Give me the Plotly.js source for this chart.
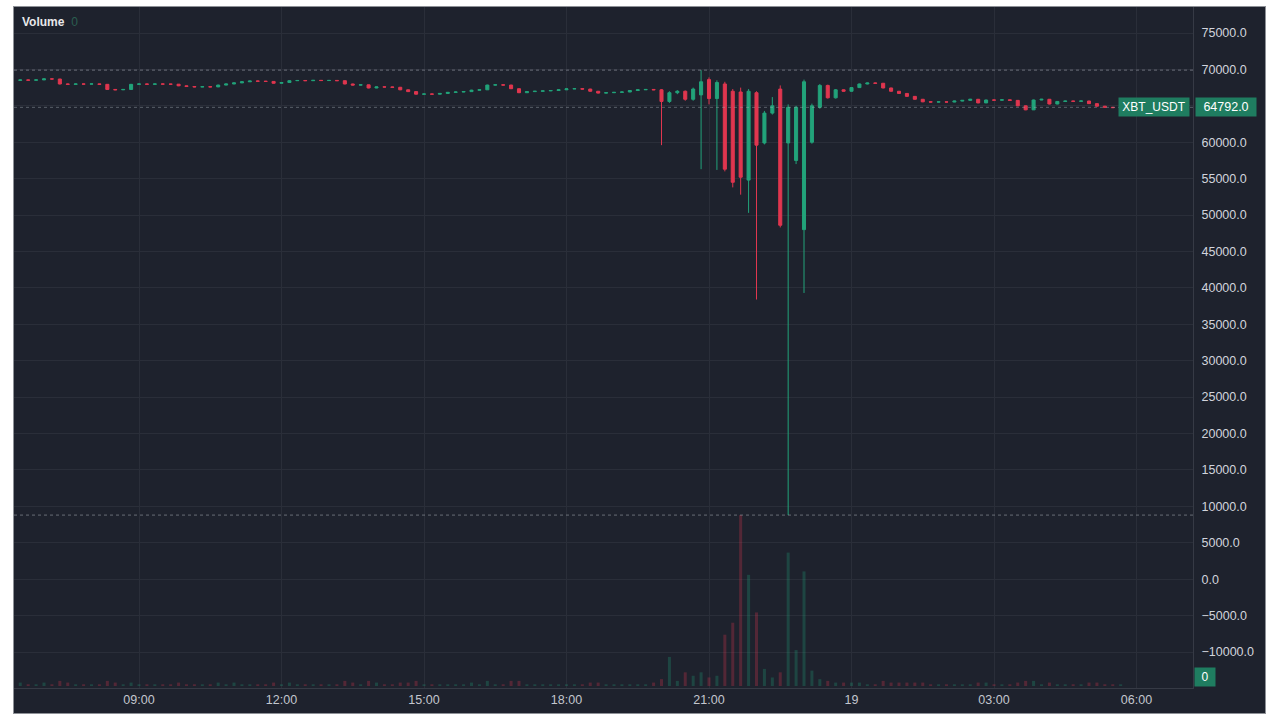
<!DOCTYPE html>
<html>
<head>
<meta charset="utf-8">
<script src="https://cdn.plot.ly/plotly-3.0.1.min.js"></script>
<style>
  html, body { margin:0; padding:0; background:#ffffff; width:1280px; height:720px; overflow:hidden; }
  #frame { position:absolute; left:13px; top:6px; width:1251px; height:706px; border:1px solid #8e9197; background:#1e222d; }
  #chart { width:1251px; height:706px; }
</style>
</head>
<body>
<div id="frame"><div id="chart"></div></div>
<script>
// ---- data (10-minute candles, XBT_USDT) ----
const startTime = '2024-04-18T06:30:00Z';
const stepMinutes = 10;

const openPrices = [
 68500,68550,68520,68560,68700,68680,68000,67950,68000,67980,
 68010,67950,67250,67200,67250,67950,68000,67960,68000,67980,
 67970,67750,67650,67600,67620,67600,67850,68000,68150,68300,
 68400,68380,68350,68100,68200,68450,68480,68450,68500,68470,
 68490,68450,68000,67850,67880,67450,67600,67580,67550,67200,
 66950,66600,66620,66600,66700,66850,66900,66950,67150,67200,
 67850,67880,67850,67350,66800,66950,67000,67050,67100,67200,
 67330,67350,67300,67000,66750,66800,66850,66900,67100,67200,
 67250,67200,65600,66800,67000,65900,66500,68600,66000,68000,
 67000,66900,54800,66800,59900,64000,67300,59900,57500,48000,
 60000,64800,67800,66100,67200,67000,67500,68000,68130,68100,
 67450,67000,66700,66300,65900,65550,65520,65540,65520,65650,
 65750,65900,65400,65800,65780,65820,65750,65000,64450,65800,
 65900,65250,65600,65650,65620,65660,65300,64950,64800,64750
];
const highPrices = [
 68600,68600,68610,68750,68760,68700,68050,68050,68040,68060,
 68040,67980,67300,67300,68000,68060,68040,68050,68040,68020,
 68000,67790,67700,67680,67660,67900,68050,68200,68350,68450,
 68450,68420,68390,68250,68500,68530,68520,68550,68540,68540,
 68530,68480,68040,67930,67910,67650,67640,67620,67590,67240,
 66990,66670,66660,66750,66900,66950,67000,67200,67250,67900,
 67930,67920,67890,67390,67000,67050,67100,67150,67250,67380,
 67400,67390,67340,67040,66850,66900,66950,67150,67250,67300,
 67290,67300,67000,67150,67100,67500,69900,68900,68500,68300,
 67300,67500,67300,67000,64300,66200,67800,65200,65000,68600,
 65300,68000,67900,67300,67250,67550,68050,68180,68170,68140,
 67490,67040,66740,66340,65940,65590,65590,65580,65700,65800,
 65950,65940,65850,65840,65870,65860,65790,65040,65850,65950,
 65940,65650,65700,65690,65710,65700,65340,64990,64840,64840
];
const lowPrices = [
 68450,68480,68490,68530,68640,67940,67900,67920,67940,67950,
 67900,67200,67150,67160,67220,67920,67920,67930,67940,67930,
 67700,67610,67550,67570,67560,67570,67820,67970,68120,68270,
 68340,68310,68050,68060,68170,68420,68410,68420,68430,68440,
 68410,67950,67800,67810,67400,67420,67540,67500,67150,66900,
 66550,66560,66550,66570,66670,66820,66870,66920,67120,67170,
 67820,67800,67300,66750,66770,66920,66970,67020,67070,67170,
 67300,67250,66950,66700,66720,66770,66820,66870,67070,67170,
 67150,59600,65400,66600,65700,65700,56300,65200,56200,56000,
 53800,52800,50300,38400,59700,63800,48300,8800,57000,39300,
 59800,64600,66000,66000,66950,66950,67450,67950,68050,67400,
 66950,66650,66250,65850,65500,65470,65480,65470,65490,65620,
 65720,65350,65370,65730,65750,65700,64950,64400,64420,65770,
 65200,65220,65570,65570,65590,65250,64900,64750,64700,64720
];
const closePrices = [
 68550,68520,68560,68700,68680,68000,67950,68000,67980,68010,
 67950,67250,67200,67250,67950,68000,67960,68000,67980,67970,
 67750,67650,67600,67620,67600,67850,68000,68150,68300,68400,
 68380,68350,68100,68200,68450,68480,68450,68500,68470,68490,
 68450,68000,67850,67880,67450,67600,67580,67550,67200,66950,
 66600,66620,66600,66700,66850,66900,66950,67150,67200,67850,
 67880,67850,67350,66800,66950,67000,67050,67100,67200,67330,
 67350,67300,67000,66750,66800,66850,66900,67100,67200,67250,
 67200,65600,66800,67000,65900,67300,68300,66000,68200,56300,
 54500,55200,67000,59600,64000,65000,48600,64800,64800,68300,
 65000,67800,66100,67200,67000,67500,68000,68130,68100,67450,
 67000,66700,66300,65900,65550,65520,65540,65520,65650,65750,
 65900,65400,65800,65780,65820,65750,65000,64450,65800,65900,
 65250,65600,65650,65620,65660,65300,64950,64800,64750,64792
];
const volumes = [
 2,1,1,2,1,3,2,1,1,1,
 1,3,2,1,2,1,1,1,1,1,
 2,1,1,1,1,2,1,2,1,1,
 1,1,2,1,2,1,1,1,1,1,
 1,3,2,1,3,2,1,1,2,2,
 3,1,1,1,1,1,1,2,1,3,
 1,1,3,3,1,1,1,1,1,1,
 1,1,2,2,1,1,1,1,1,1,
 2,4,17,3,8,6,8,5,6,30,
 37,100,65,43,10,5,8,78,21,67,
 9,4,3,2,2,2,2,1,1,3,
 2,2,2,2,2,1,1,1,1,1,
 1,2,2,1,1,1,2,3,3,1,
 2,1,1,1,1,2,2,1,1,1
];
const tickVals = ['2024-04-18 09:00','2024-04-18 12:00','2024-04-18 15:00','2024-04-18 18:00',
                  '2024-04-18 21:00','2024-04-19 00:00','2024-04-19 03:00','2024-04-19 06:00'];
const tickText = ['09:00','12:00','15:00','18:00','21:00','19','03:00','06:00'];
const lastPrice = 64792;
const highMark = 69900;
const lowMark = 8800;
const symbol = 'XBT_USDT';

// ---- build time axis ----
function fmt(d){
  const p = n => String(n).padStart(2,'0');
  return d.getUTCFullYear()+'-'+p(d.getUTCMonth()+1)+'-'+p(d.getUTCDate())+' '+p(d.getUTCHours())+':'+p(d.getUTCMinutes());
}
const t0 = new Date(startTime).getTime();
const times = closePrices.map((_, i) => fmt(new Date(t0 + i*stepMinutes*60000)));

const UP = '#22a37a', DOWN = '#e0364f';
const volColors = closePrices.map((c, i) => c >= openPrices[i] ? 'rgba(34,163,122,0.28)' : 'rgba(224,54,79,0.28)');

const font = 'Liberation Sans, Arial, sans-serif';

const candles = {
  type:'candlestick', x: times, open: openPrices, high: highPrices, low: lowPrices, close: closePrices,
  increasing:{line:{color:UP, width:1}, fillcolor:UP},
  decreasing:{line:{color:DOWN, width:1}, fillcolor:DOWN},
  whiskerwidth:0, hoverinfo:'skip', yaxis:'y', xaxis:'x'
};
const vol = {
  type:'bar', x: times, y: volumes, marker:{color: volColors, line:{width:0}},
  yaxis:'y2', xaxis:'x', hoverinfo:'skip'
};

const grid = '#2a2e39';
const layout = {
  width:1251, height:706,
  margin:{l:0, r:72, t:0, b:25, pad:0},
  paper_bgcolor:'#1e222d', plot_bgcolor:'#1e222d',
  showlegend:false,
  bargap:0.62, boxgap:0.45,
  font:{family:font, color:'#d1d4dc', size:12},
  xaxis:{
    type:'date', range:['2024-04-18 06:22:06','2024-04-19 07:11:22'],
    tickmode:'array', tickvals:tickVals, ticktext:tickText,
    showgrid:true, gridcolor:grid, gridwidth:1,
    showline:true, linecolor:'#363a45', linewidth:1,
    ticks:'', zeroline:false, fixedrange:true,
    rangeslider:{visible:false},
    tickfont:{family:font, color:'#c3c6ce', size:12.5}
  },
  yaxis:{
    side:'right', range:[-14943, 78570], tick0:0, dtick:5000, tickformat:'.1f',
    showgrid:true, gridcolor:grid, gridwidth:1,
    showline:true, linecolor:'#363a45', linewidth:1,
    ticks:'', zeroline:false, fixedrange:true, ticklabelstandoff:5,
    tickfont:{family:font, color:'#d1d4dc', size:12.5}
  },
  yaxis2:{overlaying:'y', side:'right', range:[-1.17, 397], visible:false, fixedrange:true},
  shapes:[
    {type:'line', xref:'paper', x0:0, x1:1, yref:'y', y0:highMark, y1:highMark,
     line:{color:'rgba(165,170,180,0.55)', width:1, dash:'dot'}},
    {type:'line', xref:'paper', x0:0, x1:1, yref:'y', y0:lowMark, y1:lowMark,
     line:{color:'rgba(165,170,180,0.55)', width:1, dash:'dot'}},
    {type:'line', xref:'paper', x0:0, x1:1, yref:'y', y0:lastPrice, y1:lastPrice,
     line:{color:'rgba(165,170,180,0.45)', width:1, dash:'dot'}}
  ],
  annotations:[
    {xref:'paper', yref:'paper', x:0.005, y:0.978, xanchor:'left', yanchor:'middle', showarrow:false,
     text:'<b>Volume</b>  <span style="color:#2b5e50">0</span>', font:{family:font, size:12, color:'#e8e8ea'}},
    {xref:'paper', yref:'y', x:1, y:lastPrice, xanchor:'left', yanchor:'middle', xshift:2, showarrow:false,
     text:lastPrice.toFixed(1), bgcolor:'#1f7d60', borderpad:2, width:56, height:14,
     font:{family:font, size:12.5, color:'#ffffff'}},
    {xref:'paper', yref:'y', x:1, y:lastPrice, xanchor:'right', yanchor:'middle', xshift:-3, showarrow:false,
     text:symbol, bgcolor:'#1f7d60', borderpad:2, width:66, height:14,
     font:{family:font, size:12, color:'#ffffff'}},
    {xref:'paper', yref:'paper', x:1, y:0.016, xanchor:'left', yanchor:'middle', xshift:1, showarrow:false,
     text:'0', bgcolor:'#1f7d60', borderpad:2, width:16, height:14,
     font:{family:font, size:12, color:'#ffffff'}}
  ]
};

Plotly.newPlot('chart', [vol, candles], layout, {staticPlot:true, displayModeBar:false});
</script>
</body>
</html>
